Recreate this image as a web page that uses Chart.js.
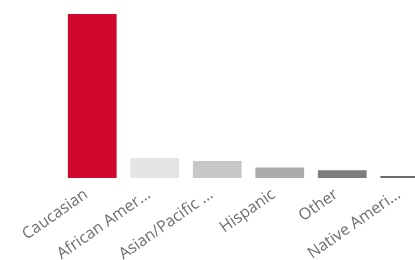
<!DOCTYPE html>
<html>
<head>
<meta charset="utf-8">
<script src="https://cdn.jsdelivr.net/npm/chart.js@4"></script>
<style>
html,body{margin:0;padding:0;background:#fff;overflow:hidden;width:415px;height:260px;}
#wrap{position:absolute;left:0;top:0;width:440px;height:271px;}
</style>
</head>
<body>
<div id="wrap"><canvas id="c" width="440" height="271"></canvas></div>
<script>
const categories = ["Caucasian", "African Amer...", "Asian/Pacific ...", "Hispanic", "Other", "Native Ameri..."];
const counts = [1000, 122, 104, 64, 47, 12];
const barColors = ["#D0082F", "#E4E4E4", "#C8C8C8", "#ABABAB", "#7E7E7E", "#6A6A6A"];

new Chart(document.getElementById('c'), {
  type: 'bar',
  data: {
    labels: categories,
    datasets: [{
      data: counts,
      backgroundColor: barColors,
      borderWidth: 0,
      barPercentage: 0.78,
      categoryPercentage: 1.0
    }]
  },
  options: {
    responsive: false,
    animation: false,
    layout: { padding: { left: 61, right: 4, top: 14, bottom: 0 } },
    plugins: { legend: { display: false }, tooltip: { enabled: false } },
    scales: {
      y: { display: false, min: 0, max: 1000 },
      x: {
        grid: { display: false, drawTicks: false },
        border: { display: false },
        ticks: {
          color: '#6E6E6E',
          font: { family: 'Open Sans', size: 16 },
          maxRotation: 35,
          minRotation: 35,
          padding: 7,
          labelOffset: -6,
          autoSkip: false
        }
      }
    }
  }
});
</script>
</body>
</html>
